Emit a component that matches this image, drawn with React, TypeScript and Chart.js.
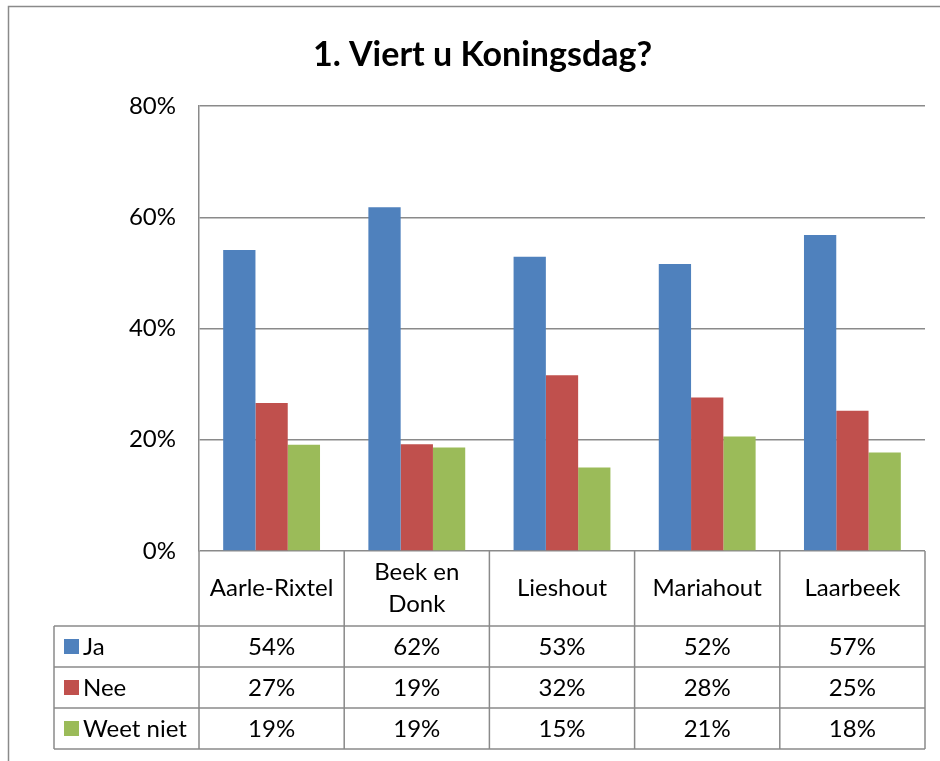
import React, { useEffect, useRef } from 'react';
import { Chart, registerables } from 'chart.js';

Chart.register(...registerables);

const chartTitle = '1. Viert u Koningsdag?';
const categories = ['Aarle-Rixtel', 'Beek en Donk', 'Lieshout', 'Mariahout', 'Laarbeek'];
const categoryLines = [['Aarle-Rixtel'], ['Beek en', 'Donk'], ['Lieshout'], ['Mariahout'], ['Laarbeek']];
const seriesNames = ['Ja', 'Nee', 'Weet niet'];
const jaValues = [54.1, 61.8, 52.9, 51.6, 56.8];
const neeValues = [26.6, 19.2, 31.6, 27.6, 25.2];
const weetNietValues = [19.1, 18.6, 15.0, 20.6, 17.7];
const seriesColors = ['#4F81BD', '#C0504D', '#9BBB59'];
const yMin = 0;
const yMax = 80;
const yStep = 20;

const FONT = 'Lato, "Open Sans", sans-serif';
const LINE = '#8a8a8a';
const TEXT_SIZE = 24;
const PAD_LEFT = 40;

const tablePlugin = {
  id: 'dataTable',
  beforeDraw(chart: any) {
    const ctx = chart.ctx;
    ctx.save();
    ctx.fillStyle = '#ffffff';
    ctx.fillRect(0, 0, chart.width, chart.height);
    ctx.strokeStyle = LINE;
    ctx.lineWidth = 1.5;
    ctx.beginPath();
    ctx.moveTo(8.5, chart.height);
    ctx.lineTo(8.5, 6.5);
    ctx.lineTo(chart.width, 6.5);
    ctx.stroke();
    ctx.restore();
  },
  afterDraw(chart: any) {
    const ctx = chart.ctx;
    const area = chart.chartArea;
    const xs = chart.scales.x;
    const n = categories.length;
    const step = xs.getPixelForValue(1) - xs.getPixelForValue(0);
    const bounds: number[] = [];
    for (let i = 0; i < n; i++) bounds.push(xs.getPixelForValue(i) - step / 2);
    bounds.push(xs.getPixelForValue(n - 1) + step / 2);
    const top = area.bottom;
    const headerH = 75;
    const rowH = 41;
    const headerBottom = top + headerH;
    const tableBottom = headerBottom + rowH * seriesNames.length;
    const tableLeft = 54;

    ctx.save();
    ctx.strokeStyle = LINE;
    ctx.lineWidth = 1.5;
    ctx.beginPath();
    for (const b of bounds) {
      ctx.moveTo(b, top);
      ctx.lineTo(b, tableBottom);
    }
    ctx.moveTo(tableLeft, headerBottom);
    ctx.lineTo(tableLeft, tableBottom);
    for (let r = 0; r <= seriesNames.length; r++) {
      const y = headerBottom + r * rowH;
      ctx.moveTo(tableLeft, y);
      ctx.lineTo(bounds[n], y);
    }
    ctx.stroke();

    ctx.fillStyle = '#000000';
    ctx.font = `${TEXT_SIZE}px ${FONT}`;
    ctx.textAlign = 'center';
    ctx.textBaseline = 'middle';
    const lineGap = 32;
    categoryLines.forEach((lines, i) => {
      const cx = xs.getPixelForValue(i);
      const cy = top + headerH / 2;
      lines.forEach((ln, j) => {
        ctx.fillText(ln, cx, cy + (j - (lines.length - 1) / 2) * lineGap);
      });
    });

    chart.data.datasets.forEach((ds: any, r: number) => {
      const cy = headerBottom + r * rowH + rowH / 2;
      ctx.fillStyle = seriesColors[r];
      ctx.fillRect(64, cy - 7.5, 15, 15);
      ctx.fillStyle = '#000000';
      ctx.textAlign = 'left';
      ctx.fillText(ds.label, 83, cy + 1);
      ctx.textAlign = 'center';
      ds.data.forEach((v: number, i: number) => {
        ctx.fillText(`${Math.round(v)}%`, xs.getPixelForValue(i), cy + 1);
      });
    });
    ctx.restore();
  },
};

export default function App() {
  const ref = useRef<HTMLCanvasElement>(null);
  useEffect(() => {
    if (!ref.current) return;
    const chart = new Chart(ref.current, {
      type: 'bar',
      data: {
        labels: categories,
        datasets: [
          { label: seriesNames[0], data: jaValues, backgroundColor: seriesColors[0] },
          { label: seriesNames[1], data: neeValues, backgroundColor: seriesColors[1] },
          { label: seriesNames[2], data: weetNietValues, backgroundColor: seriesColors[2] },
        ],
      },
      options: {
        responsive: false,
        maintainAspectRatio: false,
        animation: false,
        devicePixelRatio: 1,
        layout: { padding: { left: PAD_LEFT, right: 15, top: 0, bottom: 12 } },
        datasets: { bar: { categoryPercentage: 0.667, barPercentage: 1.0 } },
        plugins: {
          legend: { display: false },
          tooltip: { enabled: false },
          title: {
            display: true,
            text: chartTitle,
            color: '#000000',
            font: { family: FONT, size: 34, weight: 'bold' },
            padding: { top: 34.6, bottom: 30.6 },
          },
        },
        scales: {
          x: {
            grid: { display: false },
            border: { display: false },
            ticks: { display: false },
            afterFit: (s: any) => { s.height = 198; },
          },
          y: {
            min: yMin,
            max: yMax,
            ticks: {
              stepSize: yStep,
              padding: 23,
              color: '#000000',
              font: { family: FONT, size: TEXT_SIZE },
              callback: (v: any) => `${v}%`,
            },
            grid: { color: LINE, lineWidth: 1.5, drawTicks: false },
            border: { display: true, color: LINE, width: 1.5 },
            afterFit: (s: any) => { s.width = 199 - PAD_LEFT; },
          },
        },
      },
      plugins: [tablePlugin],
    });
    return () => chart.destroy();
  }, []);
  return (
    <div style={{ position: 'fixed', left: 0, top: 0, width: 940, height: 761, background: '#fff' }}>
      <canvas ref={ref} width={940} height={761} />
    </div>
  );
}
